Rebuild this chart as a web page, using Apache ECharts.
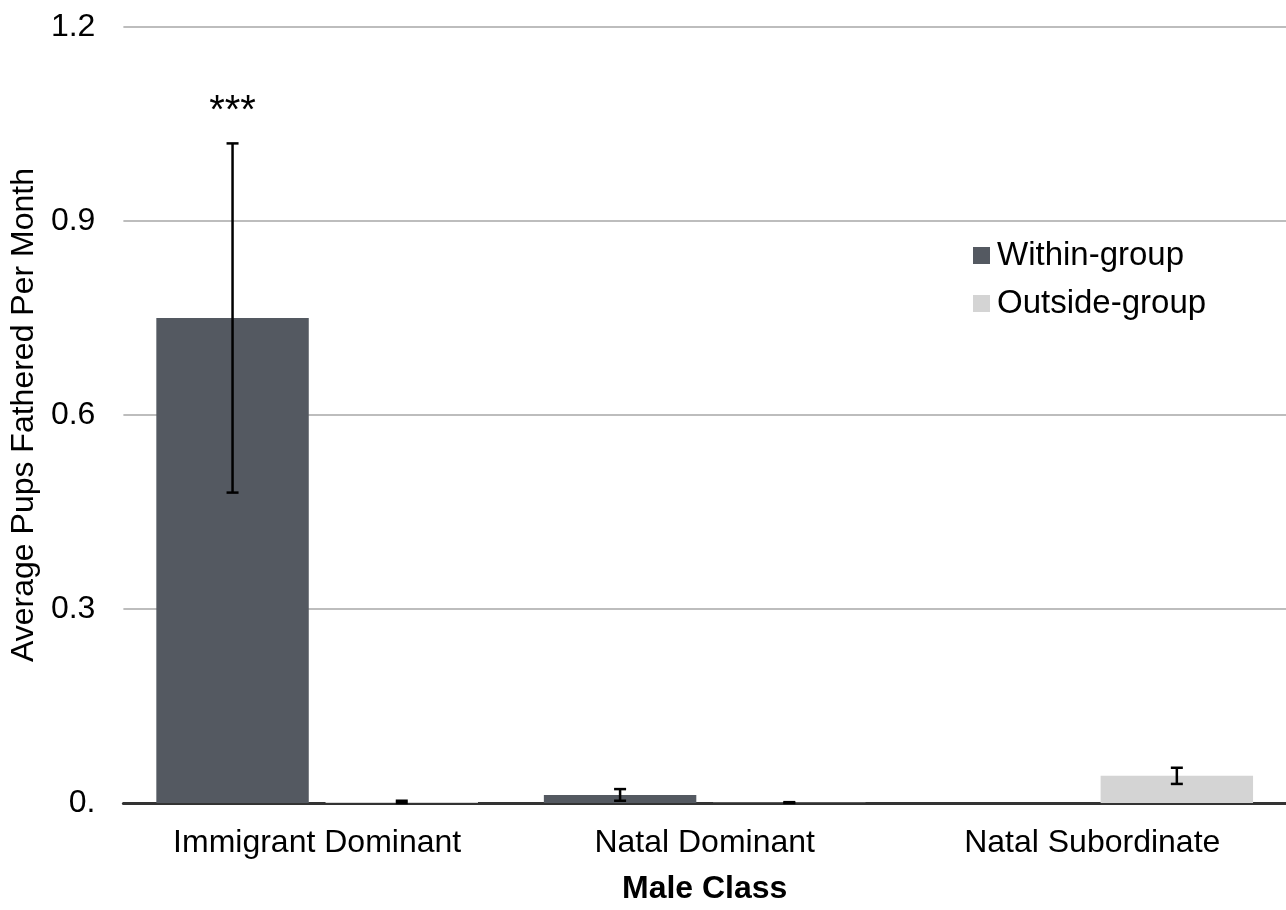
<!DOCTYPE html>
<html>
<head>
<meta charset="utf-8">
<script src="https://cdn.jsdelivr.net/npm/echarts@6/dist/echarts.min.js"></script>
<style>html,body{margin:0;padding:0;background:#fff;}#c{width:1286px;height:910px;}</style>
</head>
<body>
<div id="c"></div>
<script>
const categories = ['Immigrant Dominant', 'Natal Dominant', 'Natal Subordinate'];
const seriesNames = ['Within-group', 'Outside-group'];
const withinValues = [0.75, 0.0125, 0];
const withinErrors = [0.27, 0.009, 0];
const outsideValues = [0.0015, 0.0005, 0.042];
const outsideErrors = [0.002, 0.0008, 0.0125];
const yTickLabels = ['0.', '0.3', '0.6', '0.9', '1.2'];
const significance = ['***', '', ''];

const FONT = 'Liberation Sans';
const GAP = 0.11, CATGAP = 0.17;

const errData = [];
categories.forEach((c, i) => {
  if (withinErrors[i] > 0) errData.push([i, withinValues[i] - withinErrors[i], withinValues[i] + withinErrors[i], 0, significance[i]]);
  if (outsideErrors[i] > 0) errData.push([i, Math.max(0, outsideValues[i] - outsideErrors[i]), outsideValues[i] + outsideErrors[i], 1, '']);
});

const chart = echarts.init(document.getElementById('c'));
chart.setOption({
  animation: false,
  textStyle: { fontFamily: FONT },
  grid: { left: 123, right: 0, top: 27, bottom: 102, containLabel: false },
  legend: {
    orient: 'vertical', left: 968, top: 234, itemWidth: 17, itemHeight: 17, itemGap: 15,
    icon: 'rect',
    textStyle: { fontSize: 33, color: '#000', fontFamily: FONT, padding: [0, 0, 0, 2] },
    data: seriesNames
  },
  xAxis: {
    type: 'category', data: categories,
    axisLine: { lineStyle: { color: '#333', width: 3 } },
    axisTick: { show: false },
    axisLabel: { fontSize: 32, color: '#000', margin: 24 },
    name: 'Male Class', nameLocation: 'middle', nameGap: 70,
    nameTextStyle: { fontSize: 32, fontWeight: 'bold', color: '#000' }
  },
  yAxis: {
    type: 'value', min: 0, max: 1.2, interval: 0.3,
    axisLine: { show: false }, axisTick: { show: false },
    splitLine: { lineStyle: { color: '#bdbdbd', width: 2 } },
    axisLabel: {
      fontSize: 32, color: '#000', margin: 28,
      formatter: v => yTickLabels[Math.round(v / 0.3)]
    },
    name: 'Average Pups Fathered Per Month', nameLocation: 'middle', nameGap: 83,
    nameTextStyle: { fontSize: 32, color: '#000' }
  },
  series: [
    { name: seriesNames[0], type: 'bar', data: withinValues, itemStyle: { color: '#545961' }, barGap: (GAP * 100) + '%', barCategoryGap: (CATGAP * 100) + '%' },
    { name: seriesNames[1], type: 'bar', data: outsideValues, itemStyle: { color: '#d4d4d4' } },
    {
      type: 'custom', data: errData, z: 10,
      renderItem: function (params, api) {
        const cat = api.value(0), lo = api.value(1), hi = api.value(2), s = api.value(3);
        const band = api.size([1, 0])[0];
        const barW = band * (1 - CATGAP) / (2 + GAP);
        const off = barW * (1 + GAP) / 2;
        const pLo = api.coord([cat, lo]);
        const pHi = api.coord([cat, hi]);
        const x = pLo[0] + (s === 0 ? -off : off);
        const cap = 6;
        const style = { stroke: '#000', lineWidth: 2.5 };
        const children = [
          { type: 'line', shape: { x1: x, y1: pLo[1], x2: x, y2: pHi[1] }, style },
          { type: 'line', shape: { x1: x - cap, y1: pLo[1], x2: x + cap, y2: pLo[1] }, style },
          { type: 'line', shape: { x1: x - cap, y1: pHi[1], x2: x + cap, y2: pHi[1] }, style }
        ];
        const lab = errData[params.dataIndex][4];
        if (lab) {
          children.push({ type: 'text', style: { text: lab, x: x, y: pHi[1] - 11, align: 'center', verticalAlign: 'bottom', fontSize: 40, fontFamily: FONT, fill: '#000' } });
        }
        return { type: 'group', children };
      }
    }
  ]
});
</script>
</body>
</html>
